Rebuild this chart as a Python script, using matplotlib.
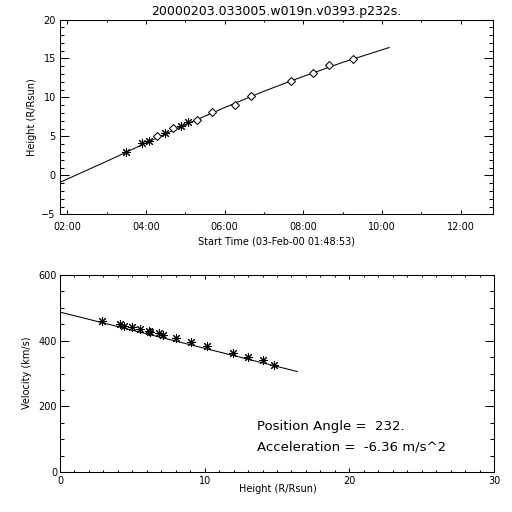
import matplotlib
matplotlib.use('Agg')
import matplotlib.pyplot as plt
from matplotlib.ticker import MultipleLocator, FuncFormatter

plt.rcParams['font.family'] = 'DejaVu Sans'

title = '20000203.033005.w019n.v0393.p232s.'
start_label = 'Start Time (03-Feb-00 01:48:53)'

# height-time measurements (hours after 00:00 on 03-Feb-00, R/Rsun)
star_time = [3.50, 3.91, 4.08, 4.49, 4.90, 5.08]
star_height = [2.97, 4.12, 4.42, 5.40, 6.34, 6.85]
diam_time = [4.28, 4.68, 5.30, 5.69, 6.27, 6.68, 7.68, 8.24, 8.66, 9.25]
diam_height = [5.06, 6.12, 7.11, 8.10, 9.04, 10.2, 12.1, 13.15, 14.15, 14.9]
fit_time = [1.815, 3.0, 4.0, 5.0, 6.0, 7.0, 8.0, 9.0, 10.18]
fit_height = [-0.9, 1.8, 4.15, 6.5, 8.7, 10.8, 12.7, 14.5, 16.4]

# velocity-height
vel_height = [2.93, 4.13, 4.43, 5.01, 5.52, 6.12, 6.23, 6.81, 7.09, 8.05,
              9.07, 10.13, 11.98, 12.99, 14.05, 14.82]
velocity = [461, 451, 446, 442, 437, 430, 426, 423, 418, 407,
            396, 384, 361, 350, 341, 325]
vfit_height = [0.0, 16.4]
vfit_velocity = [487, 306]

pos_angle = '232.'
accel = '-6.36'

lw = 0.75
fig = plt.figure(figsize=(5.12, 5.12), dpi=100)

# top panel: height vs time
ax1 = fig.add_axes([60/512, 1 - 214.3/512, 433/512, 194.8/512])
ax1.plot(fit_time, fit_height, color='black', lw=lw)
ax1.plot(star_time, star_height, ls='none', marker=(8, 2, 0), ms=6.5,
         mec='black', mew=lw)
ax1.plot(diam_time, diam_height, ls='none', marker='D', ms=4.1,
         mfc='white', mec='black', mew=lw)
ax1.set_xlim(1.815, 12.82)
ax1.set_ylim(-5, 20)
ax1.xaxis.set_major_locator(MultipleLocator(2))
ax1.xaxis.set_minor_locator(MultipleLocator(1))
ax1.xaxis.set_major_formatter(FuncFormatter(lambda v, p: '%02d:00' % int(round(v))))
ax1.yaxis.set_major_locator(MultipleLocator(5))
ax1.yaxis.set_minor_locator(MultipleLocator(1))
ax1.tick_params(axis='x', which='major', length=2.8, pad=5.5)
ax1.tick_params(axis='x', which='minor', length=1.4)
ax1.tick_params(axis='y', which='major', length=6.2, pad=3)
ax1.tick_params(axis='y', which='minor', length=3.1)

# bottom panel: velocity vs height
ax2 = fig.add_axes([60/512, 1 - 472/512, 434/512, 197/512])
ax2.plot(vfit_height, vfit_velocity, color='black', lw=lw)
ax2.plot(vel_height, velocity, ls='none', marker=(8, 2, 0), ms=6.5,
         mec='black', mew=lw)
ax2.set_xlim(0, 30)
ax2.set_ylim(0, 600)
ax2.xaxis.set_major_locator(MultipleLocator(10))
ax2.xaxis.set_minor_locator(MultipleLocator(1))
ax2.yaxis.set_major_locator(MultipleLocator(200))
ax2.yaxis.set_minor_locator(MultipleLocator(50))
ax2.tick_params(axis='x', which='major', length=2.8, pad=3.2)
ax2.tick_params(axis='x', which='minor', length=1.4)
ax2.tick_params(axis='y', which='major', length=6.2, pad=2)
ax2.tick_params(axis='y', which='minor', length=3.1)
ax2.text(13.6, 140, 'Position Angle =  ' + pos_angle, fontsize=9.5,
         ha='left', va='center')
ax2.text(13.6, 76, 'Acceleration =  ' + accel + ' m/s^2', fontsize=9.5,
         ha='left', va='center')

for ax in (ax1, ax2):
    ax.tick_params(which='both', direction='in', top=True, right=True,
                   width=lw, labelsize=7)
    for s in ax.spines.values():
        s.set_linewidth(lw)

fig.text(276.5/512, 1 - 11/512, title, fontsize=9, ha='center', va='center')
fig.text(276.5/512, 1 - 241/512, start_label, fontsize=7, ha='center', va='center')
fig.text(32/512, 1 - 117/512, 'Height (R/Rsun)', fontsize=7, rotation=90,
         ha='center', va='center')
fig.text(278/512, 1 - 489/512, 'Height (R/Rsun)', fontsize=7, ha='center', va='center')
fig.text(27/512, 1 - 373/512, 'Velocity (km/s)', fontsize=7, rotation=90,
         ha='center', va='center')

fig.savefig('out.png', dpi=100)
plt.close(fig)
